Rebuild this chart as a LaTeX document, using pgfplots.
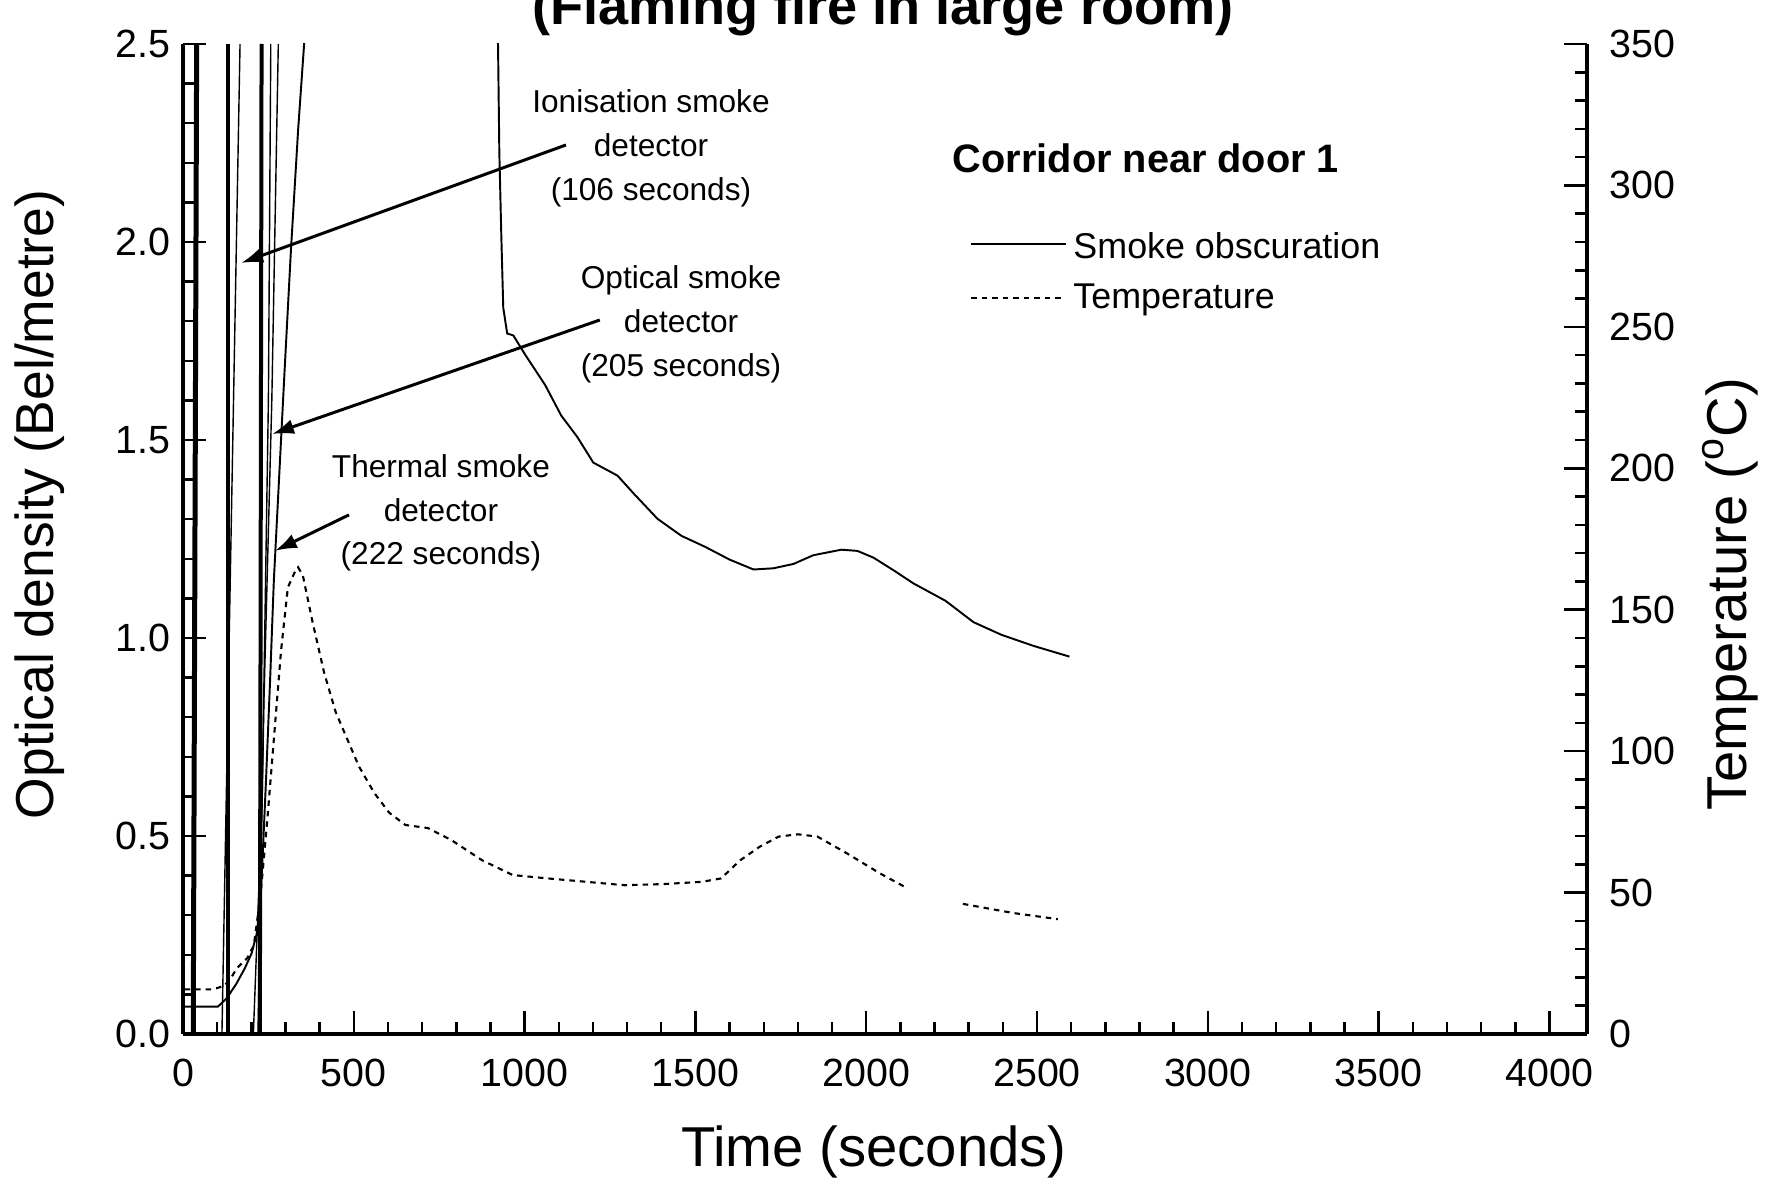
\documentclass[border=0pt]{standalone}
\usepackage{pgfplots}
\pgfplotsset{compat=1.18}
\usepackage{fontspec}
\setmainfont{Liberation Sans}
\usetikzlibrary{arrows.meta}
\begin{document}
\begin{tikzpicture}
\pgfplotsset{
  base/.style={
    at={(18.3mm,15.5mm)}, anchor=south west,
    scale only axis, width=140.4mm, height=99mm,
    xmin=0, xmax=4110,
    tick align=inside,
    major tick length=2.3mm, minor tick length=1.2mm,
    tick style={black, line width=0.7pt},
    axis line style={-, line width=1.1pt},
    /pgf/number format/assume math mode=true,
    tick label style={font=\fontsize{11.2}{13}\selectfont},
    label style={font=\fontsize{16}{19}\selectfont},
  }
}
\begin{axis}[base,
  ymin=0, ymax=2.5,
  axis x line*=bottom, axis y line*=left,
  xtick={0,500,1000,1500,2000,2500,3000,3500,4000}, minor x tick num=4,
  ytick={0,0.5,1,1.5,2,2.5}, minor y tick num=4,
  xticklabel style={/pgf/number format/1000 sep={}, yshift=-1.3mm},
  yticklabel style={/pgf/number format/.cd, fixed, fixed zerofill, precision=1},
  xlabel={Time (seconds)},
  ylabel={Optical density (Bel/metre)},
  xlabel style={at={(axis description cs:0.492,-0.119)}, anchor=center},
  ylabel style={at={(axis description cs:-0.102,0.535)}, anchor=center, font=\fontsize{15.2}{18}\selectfont},
]
% scan artefacts (vertical lines near the start)
\draw[line width=0.5mm] (axis cs:30,0) -- (axis cs:40,2.5);
\draw[line width=0.4mm] (axis cs:133,0) -- (axis cs:133,2.5);
\draw[line width=0.4mm] (axis cs:225,0) -- (axis cs:230,2.5);
\draw[line width=0.4pt] (axis cs:114,0) -- (axis cs:167,2.5);
\draw[line width=0.4pt] (axis cs:206,0) -- (axis cs:231.6,0.59) -- (axis cs:250,1.6) -- (axis cs:257,2.5);
\draw[line width=0.4pt] (axis cs:219.5,0) -- (axis cs:237,0.844) -- (axis cs:260,1.6) -- (axis cs:279,2.5);
% smoke obscuration
\addplot[black, line width=0.55pt] coordinates {
(5,0.069) (102,0.069) (128,0.090) (157,0.128) (181,0.166) (201,0.204) (216,0.254)
(225,0.305) (234,0.465) (243,0.641) (255,0.894) (266,1.146) (281,1.399) (296,1.652)
(316,1.980) (337,2.283) (357,2.530) (365,2.7)};
\addplot[black, line width=0.55pt] coordinates {
(921,2.7) (922,2.511) (926,2.226) (932,2.009) (937.5,1.834) (949,1.769) (967,1.764)
(1002,1.715) (1060,1.639) (1107,1.562) (1154,1.508) (1201,1.443) (1272,1.410)
(1318,1.366) (1389,1.301) (1459,1.258) (1529,1.230) (1600,1.198) (1670,1.173)
(1728,1.176) (1787,1.187) (1845,1.209) (1927,1.223) (1974,1.220) (2021,1.203)
(2080,1.171) (2138,1.138) (2232,1.094) (2314,1.040) (2396,1.008) (2490,0.980) (2595,0.953)};
% annotations
\node[align=center, font=\fontsize{9}{12.5}\selectfont] at (axis cs:1370,2.237) {Ionisation smoke\\detector\\(106 seconds)};
\node[align=center, font=\fontsize{9}{12.5}\selectfont] at (axis cs:1458,1.793) {Optical smoke\\detector\\(205 seconds)};
\node[align=center, font=\fontsize{9}{12.5}\selectfont] at (axis cs:755,1.316) {Thermal smoke\\detector\\(222 seconds)};
\draw[-{Latex[length=2.2mm,width=1.5mm]}, line width=0.85pt] (axis cs:1121,2.245) -- (axis cs:170,1.947);
\draw[-{Latex[length=2.2mm,width=1.5mm]}, line width=0.85pt] (axis cs:1220,1.803) -- (axis cs:260.5,1.515);
\draw[-{Latex[length=2.2mm,width=1.5mm]}, line width=0.85pt] (axis cs:486,1.311) -- (axis cs:269,1.220);
\node[font=\bfseries\fontsize{11.3}{13}\selectfont] at (axis cs:2819,2.211) {Corridor near door 1};
\draw[line width=0.55pt] (axis cs:2307,1.996) -- (axis cs:2585,1.996);
\node[anchor=west, inner sep=0.5mm, font=\fontsize{10.2}{12}\selectfont] at (axis cs:2590,1.99) {Smoke obscuration};
\draw[line width=0.6pt, dash pattern=on 0.55mm off 0.5mm] (axis cs:2307,1.859) -- (axis cs:2570,1.859);
\node[anchor=west, inner sep=0.5mm, font=\fontsize{10.2}{12}\selectfont] at (axis cs:2590,1.853) {Temperature};
\end{axis}
\begin{axis}[base,
  ymin=0, ymax=350,
  axis x line=none, axis y line*=right,
  ytick={0,50,100,150,200,250,300,350}, minor y tick num=4,
  yticklabel style={xshift=1mm},
  ylabel={Temperature (\textsuperscript{o}C)},
  ylabel style={at={(axis description cs:1.102,0.444)}, anchor=center},
]
\addplot[black, line width=0.6pt, dash pattern=on 0.55mm off 0.5mm] coordinates {
(5,15.8) (88,15.8) (120,17) (139,19.4) (157,23.2) (188,26.8) (207.5,31.4) (227,49.1)
(247,76) (267,105.8) (287,135.5) (307,157.9) (326,163) (337,165) (351,162) (379,145.8)
(413,127.8) (447,113.8) (481,104.2) (515,94.6) (560,85.2) (604,78.2) (651,73.9)
(717,72.8) (785,68.6) (876,61.4) (965,56.2) (1068,55.0) (1181,53.8) (1293,52.6)
(1406,53.0) (1519,53.8) (1575,55.0) (1631,61.4) (1688,66.2) (1744,69.8) (1800,70.6)
(1857,69.8) (1943,63.9) (2040,56.8) (2113,52.0)};
\addplot[black, line width=0.6pt, dash pattern=on 0.55mm off 0.5mm] coordinates {
(2283,46.0) (2429,42.8) (2561,40.6)};
\end{axis}
\node[anchor=base, font=\bfseries\fontsize{15.4}{18}\selectfont] at (88.3mm,116.4mm) {(Flaming fire in large room)};
\pgfresetboundingbox
\path (0mm,0mm) rectangle (177.5mm,118.9mm);
\end{tikzpicture}
\end{document}
